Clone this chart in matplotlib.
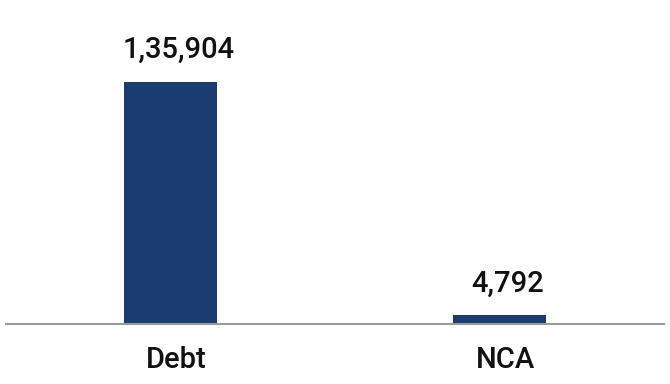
import matplotlib
matplotlib.use('Agg')
import matplotlib.pyplot as plt
from matplotlib.transforms import ScaledTranslation

plt.rcParams['font.family'] = ['Roboto', 'DejaVu Sans']

categories = ['Debt', 'NCA']
values = [135904, 4792]
labels = ['1,35,904', '4,792']

fig = plt.figure(figsize=(6.7, 3.84), dpi=100)
ax = fig.add_axes([6/670, 60/384, 658/670, 324/384])

x = range(len(categories))
bars = ax.bar(x, values, width=0.285, color='#1a3c6e', zorder=2)

for b, lab in zip(bars, labels):
    ax.annotate(lab, (b.get_x() + b.get_width()/2, b.get_height()),
                xytext=(6, 13), textcoords='offset points',
                ha='center', va='bottom', fontsize=21, fontweight='medium',
                color='#111111')

ax.set_xlim(-0.5, 1.5)
ax.set_ylim(0, 181950)
ax.set_xticks(list(x))
ax.set_xticklabels(categories, fontsize=21, fontweight='medium', color='#111111')
ax.tick_params(axis='x', length=0, pad=16)
# tick labels sit a little right of bar centres in the original
for t in ax.get_xticklabels():
    t.set_transform(t.get_transform() + ScaledTranslation(4/72, 0, fig.dpi_scale_trans))
ax.set_yticks([])
for s in ['top', 'left', 'right']:
    ax.spines[s].set_visible(False)
ax.spines['bottom'].set_color('#999999')
ax.spines['bottom'].set_linewidth(1.5)
ax.spines['bottom'].set_zorder(3)

fig.savefig('out.png', dpi=100)
